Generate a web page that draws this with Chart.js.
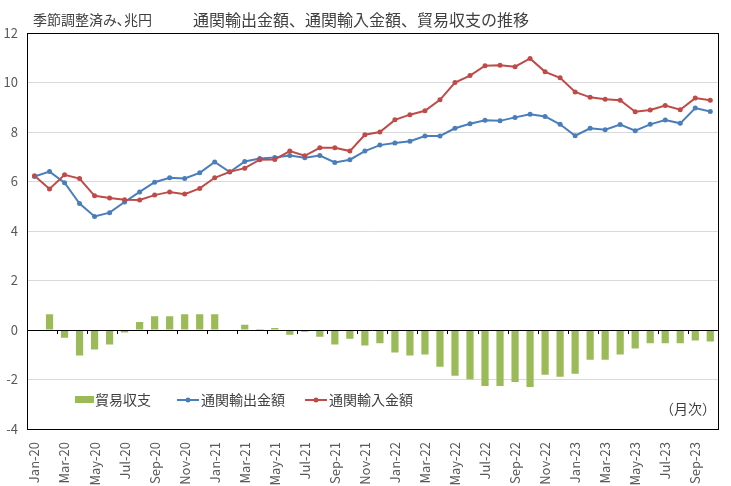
<!DOCTYPE html>
<html>
<head>
<meta charset="utf-8">
<script src="https://cdn.jsdelivr.net/npm/chart.js@4.4.0/dist/chart.umd.min.js"></script>
<style>
  html, body { margin: 0; padding: 0; background: #fff; }
  #wrap { width: 731px; height: 486px; }
</style>
</head>
<body>
<div id="wrap"><canvas id="tradeChart" width="731" height="486"></canvas></div>
<script>
const months = [
  'Jan-20','Feb-20','Mar-20','Apr-20','May-20','Jun-20','Jul-20','Aug-20','Sep-20','Oct-20','Nov-20','Dec-20',
  'Jan-21','Feb-21','Mar-21','Apr-21','May-21','Jun-21','Jul-21','Aug-21','Sep-21','Oct-21','Nov-21','Dec-21',
  'Jan-22','Feb-22','Mar-22','Apr-22','May-22','Jun-22','Jul-22','Aug-22','Sep-22','Oct-22','Nov-22','Dec-22',
  'Jan-23','Feb-23','Mar-23','Apr-23','May-23','Jun-23','Jul-23','Aug-23','Sep-23','Oct-23'
];

// 通関輸出金額
const exportsVal = [
  6.20, 6.40, 5.95, 5.11, 4.59, 4.74, 5.17, 5.58, 5.97, 6.15, 6.12, 6.35,
  6.79, 6.38, 6.81, 6.93, 6.97, 7.05, 6.96, 7.05, 6.77, 6.88, 7.23, 7.47,
  7.56, 7.63, 7.84, 7.84, 8.15, 8.33, 8.47, 8.45, 8.59, 8.72, 8.63, 8.31,
  7.85, 8.15, 8.09, 8.30, 8.05, 8.31, 8.48, 8.35, 8.97, 8.83
];

// 通関輸入金額
const importsVal = [
  6.23, 5.70, 6.27, 6.12, 5.42, 5.33, 5.26, 5.25, 5.45, 5.58, 5.49, 5.72,
  6.15, 6.39, 6.54, 6.88, 6.89, 7.23, 7.04, 7.36, 7.36, 7.23, 7.89, 8.00,
  8.49, 8.70, 8.86, 9.30, 10.00, 10.28, 10.68, 10.70, 10.64, 10.97, 10.43, 10.19,
  9.62, 9.40, 9.32, 9.28, 8.82, 8.89, 9.07, 8.90, 9.37, 9.28
];

// 貿易収支
const balanceVal = [
  -0.03, 0.64, -0.31, -1.03, -0.79, -0.59, -0.10, 0.32, 0.56, 0.56, 0.64, 0.64,
  0.64, -0.01, 0.21, 0.04, 0.08, -0.19, -0.07, -0.27, -0.59, -0.35, -0.63, -0.54,
  -0.91, -1.03, -0.99, -1.48, -1.85, -1.99, -2.26, -2.26, -2.10, -2.30, -1.81, -1.89,
  -1.77, -1.20, -1.20, -0.99, -0.75, -0.54, -0.54, -0.54, -0.42, -0.46
];

const yTicks = [-4, -2, 0, 2, 4, 6, 8, 10, 12];

const FONT = '"Noto Sans CJK JP", "Noto Sans", sans-serif';
const GREEN = '#9BBB59', BLUE = '#4A7EBB', RED = '#BE4B48';

// title, legend, border and zero-line ticks
const decor = {
  id: 'decor',
  afterDatasetsDraw(chart) {
    const { ctx, chartArea: a, scales } = chart;
    const x = scales.x, y = scales.y;
    ctx.save();

    // zero line with small ticks every two months
    const y0 = y.getPixelForValue(0);
    ctx.strokeStyle = '#000';
    ctx.lineWidth = 1;
    ctx.beginPath();
    ctx.moveTo(a.left, y0 + 0.5);
    ctx.lineTo(a.right, y0 + 0.5);
    for (let i = 2; i < months.length; i += 2) {
      const px = Math.round((x.getPixelForValue(i - 1) + x.getPixelForValue(i)) / 2) + 0.5;
      ctx.moveTo(px, y0);
      ctx.lineTo(px, y0 + 4);
    }
    ctx.stroke();

    // frame
    ctx.strokeRect(Math.round(a.left) + 0.5, Math.round(a.top) + 0.5,
      Math.round(a.right - a.left), Math.round(a.bottom - a.top));

    // titles
    ctx.fillStyle = '#404040';
    ctx.textBaseline = 'middle';
    ctx.font = '14px ' + FONT;
    ctx.fillText('季節調整済み､兆円', 33, 20);
    ctx.font = '16px ' + FONT;
    ctx.fillText('通関輸出金額、通関輸入金額、貿易収支の推移', 193, 20);

    // legend
    const ds = chart.data.datasets;
    const ly = 400;
    ctx.font = '14px ' + FONT;
    ctx.fillStyle = ds[0].backgroundColor;
    ctx.fillRect(75, ly - 4, 19, 7);
    ctx.fillStyle = '#404040';
    ctx.fillText(ds[0].label, 95, ly);

    [[177, ds[1]], [305, ds[2]]].forEach(([lx, d]) => {
      ctx.strokeStyle = d.borderColor;
      ctx.lineWidth = 2;
      ctx.beginPath();
      ctx.moveTo(lx, ly);
      ctx.lineTo(lx + 22, ly);
      ctx.stroke();
      ctx.fillStyle = d.borderColor;
      ctx.beginPath();
      ctx.arc(lx + 11, ly, 2.5, 0, Math.PI * 2);
      ctx.fill();
      ctx.fillStyle = '#404040';
      ctx.fillText(d.label, lx + 24, ly);
    });

    ctx.fillText('（月次）', 660, 409);
    ctx.restore();
  }
};

new Chart(document.getElementById('tradeChart'), {
  type: 'bar',
  data: {
    labels: months,
    datasets: [
      { type: 'bar', label: '貿易収支', data: balanceVal, backgroundColor: GREEN,
        barPercentage: 0.48, categoryPercentage: 1, order: 3 },
      { type: 'line', label: '通関輸出金額', data: exportsVal, borderColor: BLUE, backgroundColor: BLUE,
        borderWidth: 2, pointRadius: 2.5, pointBackgroundColor: BLUE, pointBorderWidth: 0, tension: 0, order: 2 },
      { type: 'line', label: '通関輸入金額', data: importsVal, borderColor: RED, backgroundColor: RED,
        borderWidth: 2, pointRadius: 2.5, pointBackgroundColor: RED, pointBorderWidth: 0, tension: 0, order: 1 }
    ]
  },
  options: {
    responsive: false,
    animation: false,
    layout: { padding: { top: 33, right: 11, left: 0, bottom: 0 } },
    plugins: { legend: { display: false }, tooltip: { enabled: false } },
    scales: {
      x: {
        grid: { display: false },
        border: { color: '#000' },
        ticks: {
          autoSkip: false, maxRotation: 90, minRotation: 90, padding: 5,
          color: '#595959', font: { family: FONT, size: 13 },
          callback: (v, i) => (i % 2 === 0 ? months[i] : '')
        },
        afterFit: s => { s.height = 57; }
      },
      y: {
        min: -4, max: 12,
        afterBuildTicks: s => { s.ticks = yTicks.map(v => ({ value: v })); },
        grid: { color: '#d9d9d9', drawTicks: false },
        border: { color: '#000' },
        ticks: { padding: 9, color: '#595959', font: { family: FONT, size: 13 } },
        afterFit: s => { s.width = 27; }
      }
    }
  },
  plugins: [decor]
});
</script>
</body>
</html>
